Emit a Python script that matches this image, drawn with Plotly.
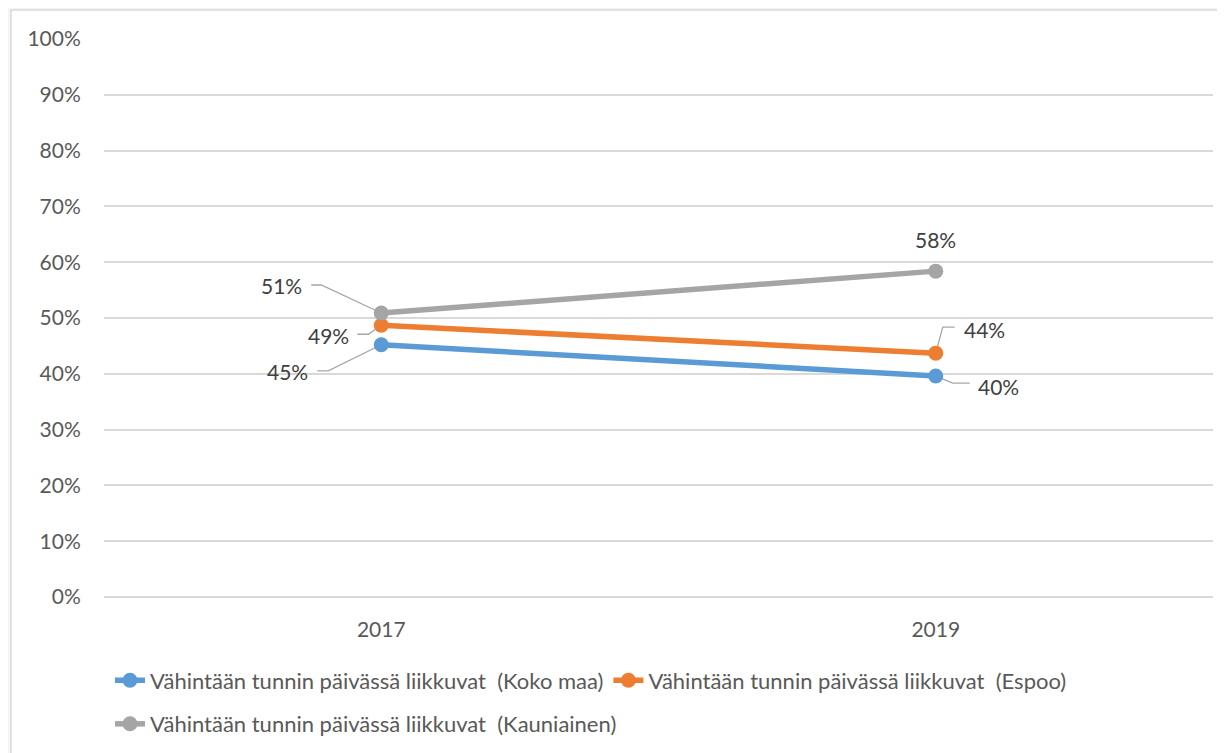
import plotly.graph_objects as go

years = ["2017", "2019"]
koko_maa = [0.452, 0.396]
espoo = [0.487, 0.437]
kauniainen = [0.509, 0.584]

names = [
    "Vähintään tunnin päivässä liikkuvat\u00a0 (Koko maa)",
    "Vähintään tunnin päivässä liikkuvat\u00a0 (Espoo)",
    "Vähintään tunnin päivässä liikkuvat\u00a0 (Kauniainen)",
]
colors = ["#5b9bd5", "#ed7d31", "#a5a5a5"]
series = [koko_maa, espoo, kauniainen]
legends = ["legend", "legend", "legend2"]

FONT = "Lato, 'Liberation Sans', sans-serif"

fig = go.Figure()
for name, vals, col, lg in zip(names, series, colors, legends):
    fig.add_trace(go.Scatter(
        x=years, y=vals, name=name, mode="lines+markers",
        line=dict(color=col, width=5.5),
        marker=dict(color=col, size=15),
        legend=lg, hoverinfo="skip",
    ))

# data label placement: label offset (screen px, y down) and elbow leader path
label_layout = {
    (0, 0): ((-94, 27), [(-64, 26), (-53, 26), (0, 0)]),
    (0, 1): ((63, 10), [(0, 0), (17, 7), (34, 7)]),
    (1, 0): ((-53, 10), [(-24, 9), (-13, 9), (0, 0)]),
    (1, 1): ((49, -24), [(0, 0), (7, -26), (19, -26)]),
    (2, 0): ((-100, -27), [(-70, -28), (-60, -28), (0, 0)]),
    (2, 1): ((0, -32), None),
}
for si, vals in enumerate(series):
    for yi, v in enumerate(vals):
        (dx, dy), leader = label_layout[(si, yi)]
        fig.add_annotation(
            x=yi, y=v, xref="x", yref="y",
            text=f"{round(v * 100):.0f}%",
            showarrow=False, xshift=dx, yshift=-dy,
            font=dict(family=FONT, size=21, color="#404040"),
        )
        if leader:
            path = "M" + " L".join(f"{px},{-py}" for px, py in leader)
            fig.add_shape(type="path", xref="x", yref="y",
                          xsizemode="pixel", ysizemode="pixel",
                          xanchor=yi, yanchor=v, path=path,
                          line=dict(color="#a6a6a6", width=1.3),
                          layer="between")

# chart area frame
fig.add_shape(type="rect", xref="paper", yref="paper",
              x0=-0.0839, x1=1.03, y0=-0.33, y1=1.052,
              fillcolor="white", line=dict(color="#d9d9d9", width=1.5),
              layer="below")

fig.update_layout(
    width=1225, height=753,
    margin=dict(l=96, r=20, t=31, b=164),
    paper_bgcolor="#f4f4f4", plot_bgcolor="white",
    font=dict(family=FONT, size=21, color="#595959"),
    showlegend=True,
    legend=dict(orientation="h", x=0.0054, y=-0.112, xanchor="left", yanchor="top",
                bgcolor="rgba(0,0,0,0)", font=dict(family=FONT, size=22, color="#595959"),
                itemwidth=30),
    legend2=dict(orientation="h", x=0.0054, y=-0.19, xanchor="left", yanchor="top",
                 bgcolor="rgba(0,0,0,0)", font=dict(family=FONT, size=22, color="#595959"),
                 itemwidth=30),
    xaxis=dict(type="category", range=[-0.5, 1.5], showgrid=False,
               showline=False, zeroline=False,
               ticks="outside", ticklen=14, tickcolor="rgba(0,0,0,0)",
               tickfont=dict(family=FONT, size=21, color="#595959")),
    yaxis=dict(range=[0, 1], dtick=0.1, tickformat=".0%",
               showgrid=True, gridcolor="#d9d9d9", gridwidth=1.5,
               zeroline=True, zerolinecolor="#d9d9d9", zerolinewidth=1.5,
               showline=False,
               ticks="outside", ticklen=18, tickcolor="rgba(0,0,0,0)",
               tickfont=dict(family=FONT, size=21, color="#595959")),
)

fig.write_html("out.html")
